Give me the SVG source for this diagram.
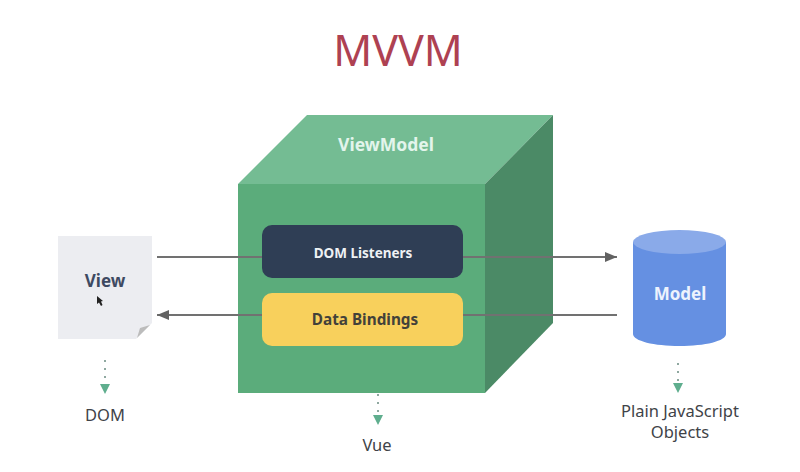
<svg xmlns="http://www.w3.org/2000/svg" width="800" height="472" viewBox="0 0 800 472">
<style>
text{font-family:"Noto Sans","Open Sans","Liberation Sans",sans-serif;text-anchor:middle}
.b{font-weight:700;font-size:15px}
.l{font-size:16.500px;fill:#3f4348}
.c{fill:none;stroke:#717171;stroke-width:2}
.d{fill:none;stroke:#8fa8a0;stroke-width:2;stroke-dasharray:2 6}
</style>
<defs>
<marker id="g" viewBox="0 0 12 10" refX="12" refY="5" markerWidth="12" markerHeight="10" markerUnits="userSpaceOnUse" orient="auto"><path d="M0 0L12 5L0 10Z" fill="#626262"/></marker>
</defs>
<rect width="800" height="472" fill="#fff"/>
<text x="398" y="66" font-size="43" fill="#ae4152">MVVM</text>
<g id="view">
<path d="M58 236H152V323L136 339H58Z" fill="#ecedf1"/>
<path d="M150 325L137 338L140 328Z" fill="#bcbcbc"/>
<text x="105" y="287" class="b" fill="#3e4a62" style="font-size:17px">View</text>
<path d="M97 296L97 304L99 302.500L101 306L102.500 305L101 301.500L103 301Z" fill="#222"/>
</g>
<g id="viewmodel">
<path d="M238 184L307 115H553L485 184Z" fill="#74bc93"/>
<path d="M485 184L553 115V323L485 393Z" fill="#4b8a66"/>
<rect x="238" y="184" width="247" height="209" fill="#5bac7b"/>
<text x="386" y="151" class="b" fill="#e3f5ec" style="font-size:17.500px">ViewModel</text>
</g>
<g id="connectors">
<path class="c" d="M157 257H262M463 257H617" marker-end="url(#g)"/>
<path class="c" d="M617 315H463M262 315H157" marker-end="url(#g)"/>
</g>
<g id="dom-listeners">
<rect x="262" y="225" width="201" height="53" rx="10" fill="#2f3e55"/>
<text x="363" y="258" class="b" fill="#eef1f4" style="font-size:13.500px">DOM Listeners</text>
</g>
<g id="data-bindings">
<rect x="262" y="293" width="201" height="53" rx="10" fill="#f8d05c"/>
<text x="365" y="325" class="b" fill="#43413a" style="font-size:15.300px">Data Bindings</text>
</g>
<g id="model">
<path d="M633 242V334C633 341 654 346 679.500 346S726 341 726 334V242Z" fill="#6590e2"/>
<ellipse cx="679.500" cy="242" rx="46.500" ry="12" fill="#8aaae9"/>
<text x="680" y="300" class="b" fill="#edf3fd" style="font-size:17px">Model</text>
</g>
<g id="dotted">
<path class="d" d="M105 360V384M378 394V415M678 363V384"/>
<path d="M100 384H110L105 394ZM373 415H383L378 425ZM673 383H683L678 393Z" fill="#5fae8e"/>
</g>
<text x="105" y="421" class="l">DOM</text>
<text x="377" y="451" class="l">Vue</text>
<text x="680" y="417" class="l">Plain JavaScript</text>
<text x="680" y="438" class="l">Objects</text>
</svg>
